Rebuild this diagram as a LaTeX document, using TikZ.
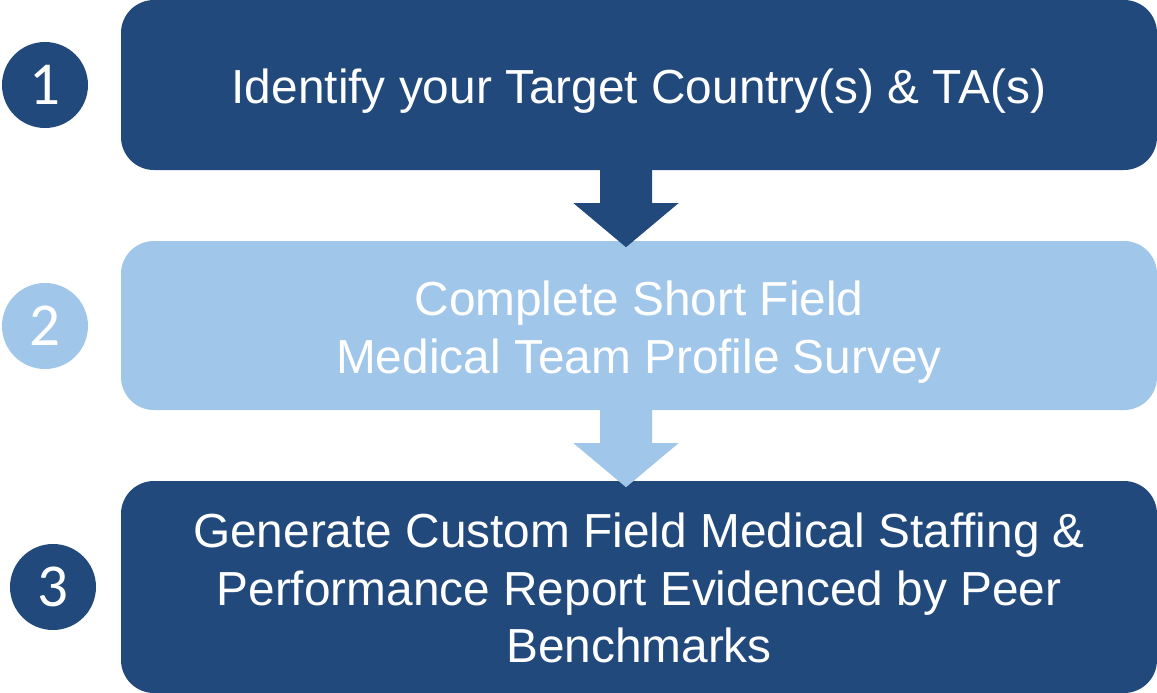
\documentclass[tikz,border=0pt]{standalone}
\usepackage{fontspec}
\setmainfont{Liberation Sans}
\newfontfamily\numfont{Carlito}
\usetikzlibrary{calc}
\definecolor{darkblue}{RGB}{33,73,124}
\definecolor{lightblue}{RGB}{160,198,234}
\tikzset{
  stepbox/.style={rectangle, rounded corners=33pt, minimum width=1036pt, inner sep=0pt, draw=none},
  numcircle/.style={circle, minimum size=86pt, inner sep=0pt, text=white, font=\numfont\fontsize{61}{61}\selectfont},
  boxtext/.style={text=white, inner sep=0pt, align=center, font=\fontsize{47.8}{57.5}\selectfont},
}
\begin{document}
\begin{tikzpicture}[x=1pt,y=-1pt]
\useasboundingbox (0,0) rectangle (1157,693);
\fill[white] (0,0) rectangle (1157,693);
% boxes
\node[stepbox, fill=darkblue, minimum height=170pt] (box1) at (639,85) {};
\node[stepbox, fill=lightblue, minimum height=169pt] (box2) at (639,325.5) {};
\node[stepbox, fill=darkblue, minimum height=212pt] (box3) at (639,587) {};
% arrows
\coordinate (a1) at ($(box1.south)+(-13,0)$);
\coordinate (a2) at ($(box2.south)+(-13,0)$);
\fill[darkblue] ($(a1)+(-26,-4)$) -- ($(a1)+(26,-4)$) -- ($(a1)+(26,33)$) -- ($(a1)+(52.5,33)$)
  -- ($(a1)+(0,77)$) -- ($(a1)+(-52.5,33)$) -- ($(a1)+(-26,33)$) -- cycle;
\fill[lightblue] ($(a2)+(-26,-4)$) -- ($(a2)+(26,-4)$) -- ($(a2)+(26,33)$) -- ($(a2)+(52.5,33)$)
  -- ($(a2)+(0,77)$) -- ($(a2)+(-52.5,33)$) -- ($(a2)+(-26,33)$) -- cycle;
% texts
\node[boxtext, anchor=base] (t1) at (639,103) {Identify your Target Country(s) \& TA(s)};
\node[boxtext, anchor=north] (t2) at (639,281) {Complete Short Field\\Medical Team Profile Survey};
\node[boxtext, anchor=north] (t3) at (639,513) {Generate Custom Field Medical Staffing \&\\Performance Report Evidenced by Peer\\Benchmarks};
% numbers
\node[numcircle, fill=darkblue] (n1) at (45,85) {1};
\node[numcircle, fill=lightblue] (n2) at (45,326) {2};
\node[numcircle, fill=darkblue] (n3) at (53,587) {3};
\end{tikzpicture}
\end{document}
